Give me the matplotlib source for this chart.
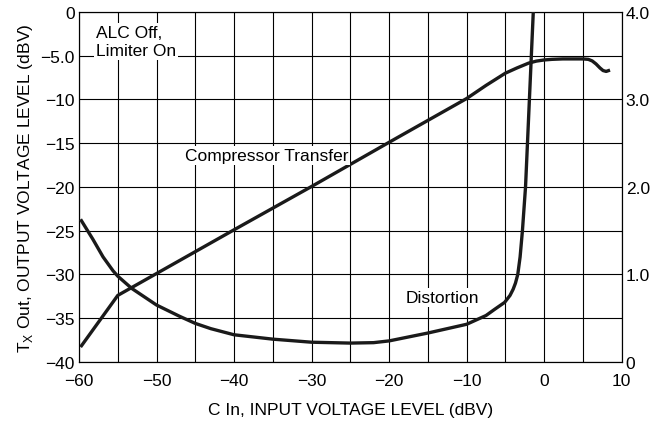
import numpy as np
import matplotlib.pyplot as plt

# ---- Data ----
# compressor transfer, left axis (dBV)
comp_x = [-59.8, -55, -50, -40, -30, -20, -10, -7.5, -5, -3.5, -2, -1, 0,
          1, 2.4, 5, 5.7, 6.2, 6.7, 7.2, 7.6, 8.0, 8.5]
comp_y = [-38.3, -32.4, -29.9, -24.9, -19.95, -14.9, -9.9, -8.4, -7.0, -6.4, -5.85, -5.62, -5.49,
          -5.42, -5.37, -5.37, -5.42, -5.6, -5.95, -6.4, -6.7, -6.8, -6.65]

# distortion, right axis units
dist_x = [-59.8, -58.2, -56.9, -55.6, -55, -53.2, -50, -47, -45, -43, -40, -35, -30, -25, -22,
          -20, -15, -10, -7.5, -6.4, -5.1, -4.4, -4.0, -3.7, -3.4, -3.1, -2.8, -2.4, -1.9, -1.4]
dist_y = [1.63, 1.40, 1.20, 1.04, 0.98, 0.84, 0.65, 0.52, 0.44, 0.38, 0.31, 0.26, 0.225, 0.215, 0.22,
          0.24, 0.33, 0.43, 0.53, 0.60, 0.68, 0.76, 0.83, 0.90, 1.00, 1.20, 1.50, 2.00, 3.00, 4.00]

x_grid = np.arange(-60, 11, 5)
x_ticks = [-60, -50, -40, -30, -20, -10, 0, 10]
y_ticks = [0, -5, -10, -15, -20, -25, -30, -35, -40]
y_labels = ["0", "\u22125.0", "\u221210", "\u221215", "\u221220", "\u221225", "\u221230", "\u221235", "\u221240"]
r_ticks = [0, 1, 2, 3, 4]
r_labels = ["0", "1.0", "2.0", "3.0", "4.0"]

plt.rcParams['font.family'] = ['Liberation Sans Narrow', 'Liberation Sans', 'DejaVu Sans']

fig, ax = plt.subplots(figsize=(6.53, 4.31), dpi=100)
fig.subplots_adjust(left=0.121, right=0.952, top=0.970, bottom=0.158)

ax.set_xlim(-60, 10)
ax.set_ylim(-40, 0)
ax.set_xticks(x_grid)
ax.set_xticklabels([str(int(v)).replace("-", "\u2212") if v in x_ticks else "" for v in x_grid])
ax.set_yticks(y_ticks)
ax.set_yticklabels(y_labels)
ax.grid(True, color="black", linewidth=0.8)
ax.tick_params(length=0, labelsize=12.5, pad=3)
ax.tick_params(axis="x", pad=8)
for s in ax.spines.values():
    s.set_linewidth(0.8)

line_kw = dict(color="#1a1a1a", linewidth=2.4, solid_joinstyle="round",
               solid_capstyle="butt", zorder=3)
ax.plot(comp_x, comp_y, **line_kw)

ax2 = ax.twinx()
ax2.set_ylim(0, 4)
ax2.set_yticks(r_ticks)
ax2.set_yticklabels(r_labels)
ax2.tick_params(length=0, labelsize=12.5, pad=3)
ax2.plot(dist_x, dist_y, **line_kw)

bbox = dict(facecolor="white", edgecolor="none", pad=1.5)
ax.text(-57.8, -1.5, "ALC Off,\nLimiter On", fontsize=12.5, va="top", ha="left",
        linespacing=1.25, bbox=bbox, zorder=4)
ax.text(-35.8, -16.4, "Compressor Transfer", fontsize=12.5, va="center", ha="center",
        bbox=bbox, zorder=4)
ax2.text(-13.1, 0.74, "Distortion", fontsize=12.5, va="center", ha="center",
         bbox=bbox, zorder=4)

ax.set_xlabel("C In, INPUT VOLTAGE LEVEL (dBV)", fontsize=12.5, labelpad=10)
ax.set_ylabel(r"T$_\mathregular{X}$ Out, OUTPUT VOLTAGE LEVEL (dBV)", fontsize=12.5, labelpad=4)

plt.savefig("out.png", dpi=100)
